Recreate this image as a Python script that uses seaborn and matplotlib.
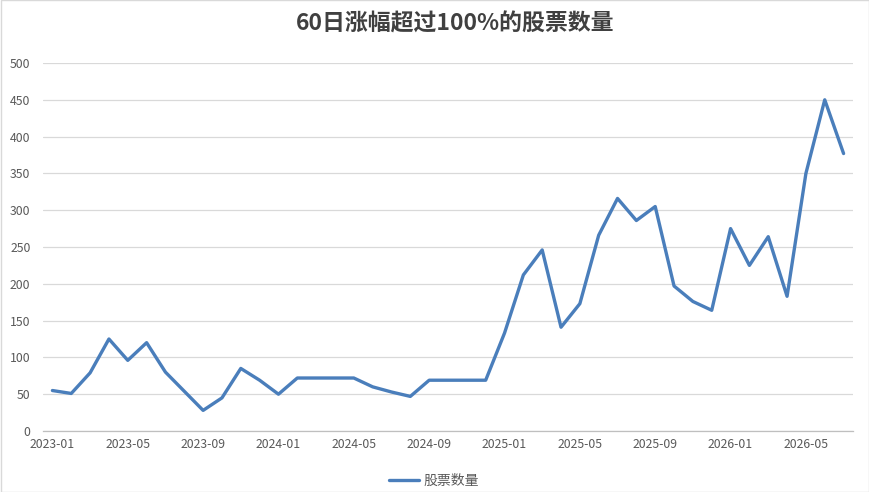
import matplotlib
matplotlib.use("Agg")
import matplotlib.pyplot as plt
import seaborn as sns
import pandas as pd
import numpy as np

months = [d.strftime("%Y-%m") for d in pd.date_range("2023-01-01", "2026-07-01", freq="MS")]
counts = [55, 51, 79, 125, 96, 120, 80, 54, 28, 45, 85, 69,
          50, 72, 72, 72, 72, 60, 53, 47, 69, 69, 69, 69,
          133, 212, 246, 141, 173, 266, 316, 286, 305, 197, 176, 164,
          275, 225, 264, 183, 350, 450, 377]
series_name = "股票数量"
title = "60日涨幅超过100%的股票数量"
y_ticks = [0, 50, 100, 150, 200, 250, 300, 350, 400, 450, 500]

sns.set_theme(style="white")
plt.rcParams['font.family'] = ['Noto Sans CJK SC', 'DejaVu Sans']

df = pd.DataFrame({"idx": np.arange(len(months)), "month": months, series_name: counts})

fig = plt.figure(figsize=(8.7, 4.92), dpi=100)
ax = fig.add_axes([43/870, 1 - 431/492, 810/870, 368/492])

sns.lineplot(data=df, x="idx", y=series_name, ax=ax, color="#4a7ebb",
             linewidth=2.4, label=series_name, legend=False)

ax.set_xlim(-0.5, len(months) - 0.5)
ax.set_ylim(0, 500)
ax.set_yticks(y_ticks)
ax.set_yticklabels([str(v) for v in y_ticks])
tick_pos = list(range(0, len(months), 4))
ax.set_xticks(tick_pos)
ax.set_xticklabels([months[i] for i in tick_pos])
ax.tick_params(axis="both", length=0, labelsize=8.8, colors="#595959")
ax.tick_params(axis="x", pad=5)
ax.tick_params(axis="y", pad=9)
ax.grid(axis="y", color="#d9d9d9", linewidth=0.9)
ax.set_axisbelow(True)
for s in ["top", "right", "left"]:
    ax.spines[s].set_visible(False)
ax.spines["bottom"].set_color("#bfbfbf")
ax.spines["bottom"].set_linewidth(0.9)
ax.set_xlabel("")
ax.set_ylabel("")

fig.text(455/870, 1 - 24/492, title, ha="center", va="center", fontsize=16.5,
         fontweight="bold", color="#404040")

handles, labels = ax.get_legend_handles_labels()
fig.legend(handles, labels, loc="center", bbox_to_anchor=(434/870, 1 - 481/492),
           frameon=False, fontsize=10, handlelength=2.2, labelcolor="#595959",
           handletextpad=0.3)

border = plt.Rectangle((0.001, 0.001), 0.998, 0.998, transform=fig.transFigure,
                       fill=False, edgecolor="#d9d9d9", linewidth=1)
fig.patches.append(border)

fig.savefig("out.png", dpi=100)
